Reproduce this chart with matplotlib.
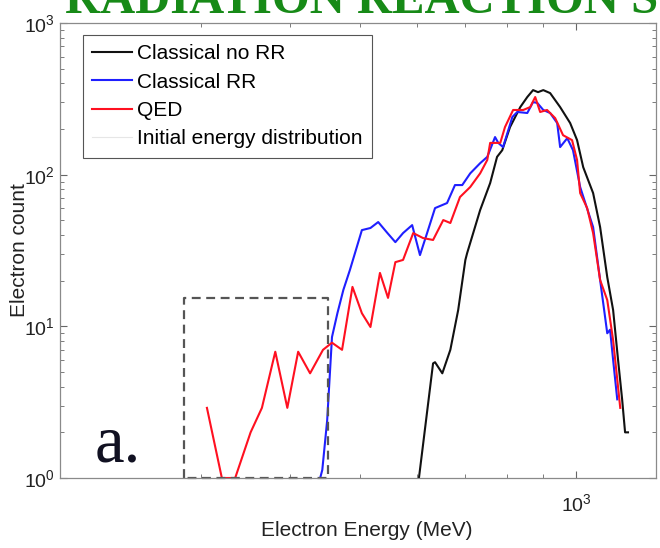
import matplotlib.pyplot as plt
from matplotlib.ticker import LogFormatterMathtext, NullFormatter

plt.rcParams['font.family'] = ['Liberation Sans', 'DejaVu Sans']
plt.rcParams['mathtext.default'] = 'regular'

# electron spectra: energy (MeV) and electron count
noRR_energy = [604, 632, 636, 651, 668, 685, 701, 705, 735, 759, 776, 789, 809, 836,
               855, 871, 885, 900, 920, 950, 981, 1003, 1023, 1056, 1080, 1105, 1126,
               1144, 1159, 1170, 1181]
noRR_count = [1, 5.7, 5.8, 4.9, 7.0, 12.8, 27.4, 30.4, 58.4, 88, 131, 145, 206, 279,
              325, 361, 350, 361, 345, 279, 219, 169, 112, 75.6, 45.1, 21.1, 12.8,
              6.0, 3.3, 2.0, 2.0]

rr_energy = [440, 443, 450, 457, 465, 474, 484, 503, 517, 530, 546, 560, 574, 591,
             606, 620, 636, 661, 678, 694, 712, 735, 752, 771, 779, 791, 815, 828,
             855, 871, 883, 900, 920, 941, 950, 972, 990, 1013, 1056, 1080, 1105,
             1115, 1126, 1141]
rr_count = [1, 1.13, 2.4, 8.5, 12.2, 17.4, 23.5, 43.1, 44.5, 48.7, 41.2, 35.9, 41.2,
            46.5, 29.5, 41.2, 60.2, 65, 85.4, 85.4, 102, 119, 131, 177, 162, 152, 240,
            259, 255, 301, 297, 267, 255, 219, 152, 174, 145, 82.9, 45.1, 20.2, 9.0,
            9.5, 6.0, 3.3]

qed_energy = [306, 321, 335, 352, 365, 381, 396, 410, 426, 444, 457, 472, 488, 503,
              517, 533, 547, 560, 574, 593, 612, 632, 653, 668, 689, 712, 735, 752,
              759, 784, 796, 817, 844, 863, 877, 891, 911, 935, 959, 987, 1003, 1013,
              1036, 1056, 1080, 1105, 1126, 1152]
qed_count = [2.9, 1, 1, 2.0, 2.9, 6.8, 2.9, 6.8, 4.9, 7.0, 7.8, 7.0, 18.2, 12.2,
             9.9, 22.5, 15.4, 26.5, 27.4, 41.2, 38.2, 37.1, 50.2, 48, 71.2, 82.9, 102,
             125, 162, 162, 206, 267, 267, 279, 325, 259, 267, 236, 182, 169, 125,
             75.6, 60.2, 41.2, 20.2, 14.9, 8.1, 2.9]

# dashed region of interest
box_energy = [284, 451]
box_count = [1, 15.4]

fig = plt.figure(figsize=(6.6, 5.48), dpi=100)
ax = fig.add_axes([60/660, 70/548, 596/660, 455/548])

ax.plot(noRR_energy, noRR_count, color='#111111', lw=1.5, label='Classical no RR')
ax.plot(rr_energy, rr_count, color='#1f1fff', lw=1.5, label='Classical RR')
ax.plot(qed_energy, qed_count, color='#ff1020', lw=1.5, label='QED')
ax.plot([], [], color='#e6e6e6', lw=0.8, label='Initial energy distribution')

bx = [box_energy[0], box_energy[0], box_energy[1], box_energy[1], box_energy[0]]
by = [box_count[0], box_count[1], box_count[1], box_count[0], box_count[0]]
ax.plot(bx, by, color='#555555', lw=1.6, ls=(0, (4, 2.5)), clip_on=False)

ax.set_xscale('log')
ax.set_yscale('log')
ax.set_xlim(191, 1292)
ax.set_ylim(1, 1000)

ax.set_xticks([1000])
ax.set_xticks([300, 400, 500, 600, 700, 800, 900], minor=True)
ax.xaxis.set_major_formatter(LogFormatterMathtext())
ax.xaxis.set_minor_formatter(NullFormatter())

ax.tick_params(which='both', direction='in', top=True, right=True,
               labelsize=14, colors='#222222')
ax.tick_params(which='major', length=5, width=0.8, color='#666666')
ax.tick_params(which='minor', length=3, width=0.6, color='#666666')
ax.tick_params(axis='x', which='major', pad=11)
for sp in ax.spines.values():
    sp.set_color('#8a8a8a')
    sp.set_linewidth(0.9)

ax.set_xlabel('Electron Energy (MeV)', fontsize=15, color='#222222')
ax.set_ylabel('Electron count', fontsize=15, color='#222222')
ax.xaxis.set_label_coords(307/596, -0.094)
ax.yaxis.set_label_coords(-0.052, 0.5)

leg = ax.legend(loc='upper left', bbox_to_anchor=(23/596, 1 - 12/455),
                borderaxespad=0, fontsize=15, fancybox=False, framealpha=1,
                handlelength=1.9, handletextpad=0.25, labelspacing=0.45,
                borderpad=0.45)
leg.get_frame().set_edgecolor('#555555')
leg.get_frame().set_linewidth(0.8)

fig.text(95/660, 1 - 462/548, 'a.', fontsize=48, family='Liberation Serif',
         color='#111122', va='baseline')
fig.text(65/660, 1 - 13/548, 'RADIATION REACTION S', fontsize=35,
         family='Liberation Serif', weight='bold', color='#178a17', va='baseline')

fig.savefig('out.png', dpi=100)
